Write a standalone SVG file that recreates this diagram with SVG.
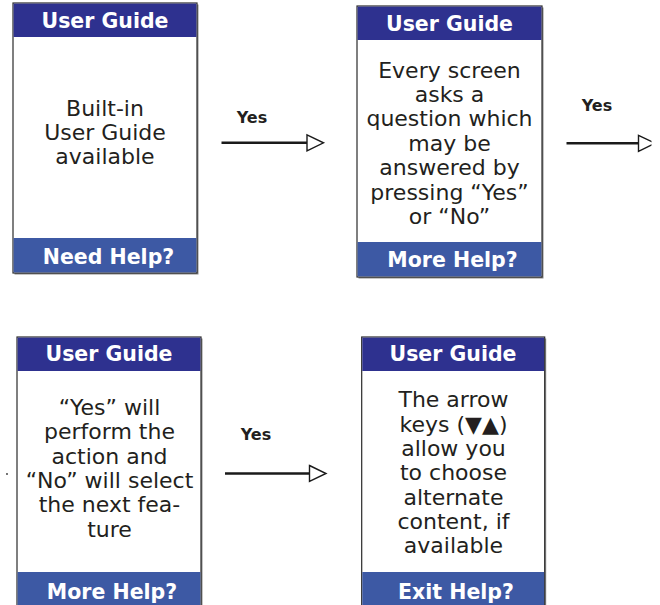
<svg xmlns="http://www.w3.org/2000/svg" width="660" height="605" viewBox="0 0 660 605">
  <style>
    .frame { fill: #ffffff; stroke: #2b2b2b; stroke-width: 1.2; }
    .shadow { fill: #8a8a8a; }
    .head { fill: #2e318f; }
    .foot { fill: #3d59a4; }
    .title { font-family: "DejaVu Sans", Verdana, sans-serif; font-weight: bold; font-size: 20.5px; fill: #ffffff; text-anchor: middle; }
    .body { font-family: "DejaVu Sans", Verdana, sans-serif; font-size: 22px; fill: #231f20; text-anchor: middle; }
    .lbl { font-family: "DejaVu Sans", Verdana, sans-serif; font-weight: bold; font-size: 16px; fill: #231f20; text-anchor: middle; }
    .link { stroke: #1a1a1a; stroke-width: 2.6; fill: none; marker-end: url(#open-tri); }
  </style>
  <defs>
    <marker id="open-tri" markerUnits="userSpaceOnUse" markerWidth="20" markerHeight="20" refX="0" refY="9" orient="auto" overflow="visible">
      <path d="M0,1 L16.5,9 L0,17 Z" fill="#ffffff" stroke="#1a1a1a" stroke-width="1.4"/>
    </marker>
    <clipPath id="page-edge">
      <rect x="0" y="0" width="651.5" height="605"/>
    </clipPath>
  </defs>
  <rect width="660" height="605" fill="#ffffff"/>

  <!-- screen 1 -->
  <g id="screen-intro">
    <rect class="shadow" x="14.5" y="4.5" width="184" height="270"/>
    <rect class="frame" x="13" y="3" width="184" height="270"/>
    <rect class="head" x="13.6" y="3.6" width="182.8" height="33.4"/>
    <rect class="foot" x="13.6" y="238" width="182.8" height="34.4"/>
    <text class="title" x="105" y="27.5">User Guide</text>
    <text class="body" x="105" y="116">Built-in</text>
    <text class="body" x="105" y="140">User Guide</text>
    <text class="body" x="105" y="164">available</text>
    <text class="title" x="108.5" y="263.5">Need Help?</text>
  </g>

  <!-- screen 2 -->
  <g id="screen-questions">
    <rect class="shadow" x="358.5" y="7.5" width="185" height="271"/>
    <rect class="frame" x="357" y="6" width="185" height="271"/>
    <rect class="head" x="357.6" y="6.6" width="183.8" height="33.4"/>
    <rect class="foot" x="357.6" y="242" width="183.8" height="34.4"/>
    <text class="title" x="449.5" y="30.5">User Guide</text>
    <text class="body" x="449.5" y="77.5">Every screen</text>
    <text class="body" x="449.5" y="101.8">asks a</text>
    <text class="body" x="449.5" y="126.1">question which</text>
    <text class="body" x="449.5" y="150.6">may be</text>
    <text class="body" x="449.5" y="175.2">answered by</text>
    <text class="body" x="449.5" y="199.7">pressing “Yes”</text>
    <text class="body" x="449.5" y="224">or “No”</text>
    <text class="title" x="452.5" y="267">More Help?</text>
  </g>

  <!-- screen 3 -->
  <g id="screen-yes-no">
    <rect class="shadow" x="18.5" y="338.5" width="184" height="280"/>
    <rect class="frame" x="17" y="337" width="184" height="280"/>
    <rect class="head" x="17.6" y="337.6" width="182.8" height="33.4"/>
    <rect class="foot" x="17.6" y="572" width="182.8" height="44.4"/>
    <text class="title" x="109" y="361">User Guide</text>
    <text class="body" x="109.5" y="415">“Yes” will</text>
    <text class="body" x="109.5" y="439.3">perform the</text>
    <text class="body" x="109.5" y="463.6">action and</text>
    <text class="body" x="109.5" y="488">“No” will select</text>
    <text class="body" x="109.5" y="512.4">the next fea-</text>
    <text class="body" x="109.5" y="536.7">ture</text>
    <text class="title" x="112" y="598.5">More Help?</text>
  </g>

  <!-- screen 4 -->
  <g id="screen-arrows">
    <rect class="shadow" x="363.2" y="338.5" width="183" height="280"/>
    <rect class="frame" x="361.7" y="337" width="183" height="280"/>
    <rect class="head" x="362.3" y="337.6" width="181.8" height="33.4"/>
    <rect class="foot" x="362.3" y="572" width="181.8" height="44.4"/>
    <text class="title" x="453" y="361">User Guide</text>
    <text class="body" x="453.5" y="407.3">The arrow</text>
    <text class="body" x="453.5" y="431.6">keys (▼▲)</text>
    <text class="body" x="453.5" y="455.9">allow you</text>
    <text class="body" x="453.5" y="480.2">to choose</text>
    <text class="body" x="453.5" y="504.5">alternate</text>
    <text class="body" x="453.5" y="528.8">content, if</text>
    <text class="body" x="453.5" y="553">available</text>
    <text class="title" x="456" y="598.5">Exit Help?</text>
  </g>

  <!-- connectors -->
  <g id="connectors">
    <line class="link" x1="221.5" y1="142.8" x2="307" y2="142.8"/>
    <text class="lbl" x="252" y="122.5">Yes</text>
    <line class="link" x1="566.5" y1="143.3" x2="638.5" y2="143.3" clip-path="url(#page-edge)"/>
    <text class="lbl" x="597" y="110.5">Yes</text>
    <line class="link" x1="225" y1="473.5" x2="309.5" y2="473.5"/>
    <text class="lbl" x="256" y="439.5">Yes</text>
    <circle cx="7" cy="474" r="0.9" fill="#333333"/>
  </g>
</svg>
